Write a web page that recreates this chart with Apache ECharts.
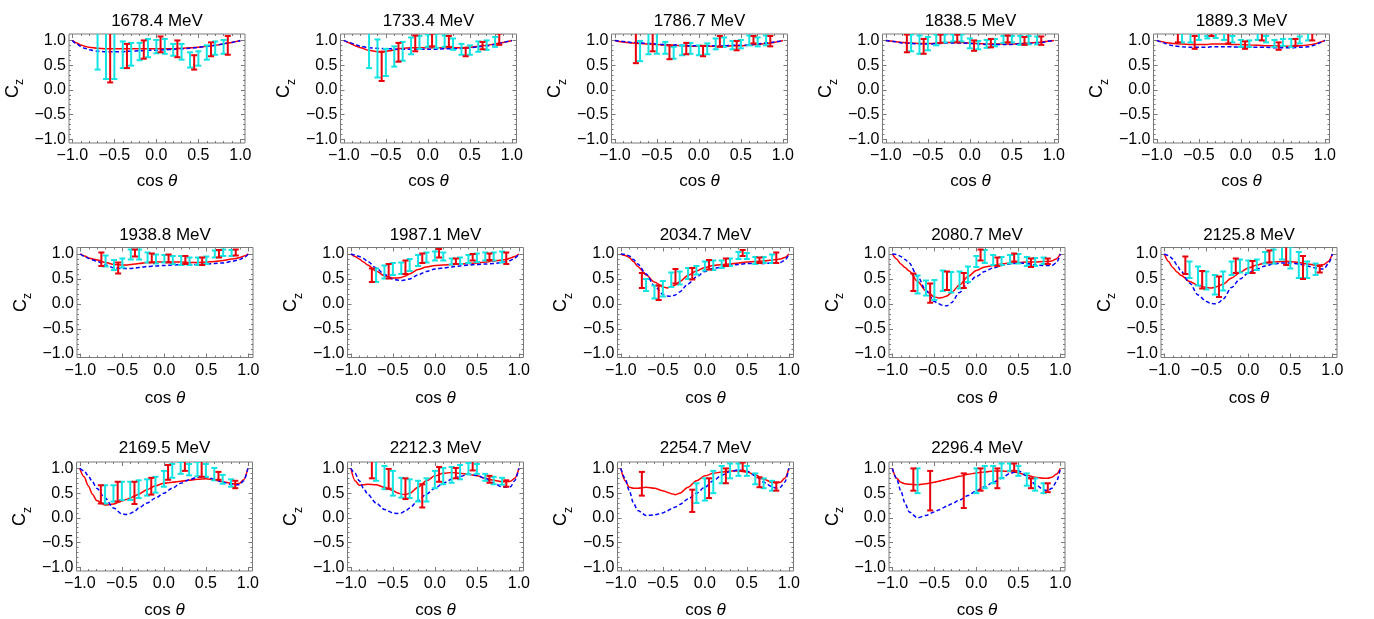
<!DOCTYPE html>
<html><head><meta charset="utf-8">
<script src="https://cdn.jsdelivr.net/npm/echarts@6/dist/echarts.min.js"></script>
<style>html,body{margin:0;padding:0;background:#fff}#c{width:1374px;height:619px}</style>
</head><body><div id="c"></div>
<script>
// ---------------- DATA ----------------
const energies = ['1678.4','1733.4','1786.7','1838.5','1889.3','1938.8','1987.1','2034.7','2080.7','2125.8','2169.5','2212.3','2254.7','2296.4'];
const curveX = [-1,-0.95,-0.9,-0.85,-0.8,-0.7,-0.6,-0.5,-0.45,-0.4,-0.35,-0.3,-0.2,-0.1,0,0.1,0.2,0.3,0.4,0.5,0.6,0.7,0.8,0.85,0.9,0.95,1];
const redCurves = [
 [1.0,0.95,0.91,0.88,0.86,0.84,0.83,0.83,0.83,0.83,0.83,0.83,0.83,0.83,0.83,0.83,0.83,0.84,0.85,0.86,0.88,0.90,0.93,0.95,0.96,0.98,1.0],
 [1.0,0.96,0.92,0.88,0.85,0.80,0.77,0.78,0.79,0.81,0.83,0.84,0.85,0.85,0.85,0.85,0.85,0.85,0.85,0.86,0.88,0.90,0.93,0.95,0.96,0.98,1.0],
 [1.0,0.98,0.97,0.96,0.95,0.94,0.93,0.92,0.91,0.91,0.90,0.90,0.89,0.88,0.88,0.88,0.88,0.88,0.89,0.89,0.90,0.92,0.94,0.95,0.96,0.98,1.0],
 [1.0,0.99,0.98,0.97,0.96,0.95,0.94,0.94,0.94,0.95,0.95,0.96,0.96,0.96,0.95,0.94,0.93,0.93,0.93,0.93,0.94,0.95,0.96,0.97,0.98,0.99,1.0],
 [1.0,0.98,0.96,0.95,0.94,0.93,0.92,0.92,0.92,0.92,0.93,0.93,0.93,0.92,0.92,0.91,0.90,0.89,0.89,0.88,0.88,0.89,0.91,0.92,0.94,0.97,1.0],
 [1.0,0.96,0.92,0.90,0.88,0.83,0.79,0.78,0.78,0.79,0.80,0.81,0.83,0.84,0.84,0.84,0.84,0.83,0.83,0.84,0.85,0.87,0.90,0.91,0.93,0.96,1.0],
 [1.0,0.95,0.90,0.84,0.78,0.66,0.56,0.52,0.52,0.53,0.56,0.60,0.69,0.74,0.77,0.78,0.79,0.80,0.81,0.82,0.84,0.86,0.88,0.89,0.92,0.95,1.0],
 [1.0,0.97,0.93,0.85,0.75,0.58,0.44,0.34,0.32,0.34,0.38,0.45,0.57,0.66,0.73,0.77,0.79,0.80,0.82,0.84,0.85,0.86,0.88,0.89,0.90,0.93,1.0],
 [1.0,0.90,0.80,0.73,0.66,0.45,0.26,0.14,0.12,0.13,0.16,0.22,0.38,0.55,0.67,0.74,0.77,0.80,0.82,0.83,0.84,0.84,0.85,0.85,0.86,0.90,1.0],
 [1.0,0.85,0.73,0.64,0.57,0.45,0.37,0.33,0.32,0.33,0.36,0.40,0.52,0.63,0.72,0.78,0.82,0.84,0.85,0.85,0.83,0.80,0.78,0.78,0.79,0.85,1.0],
 [1.0,0.83,0.65,0.48,0.35,0.26,0.28,0.34,0.37,0.40,0.44,0.48,0.57,0.65,0.70,0.72,0.74,0.76,0.78,0.79,0.77,0.73,0.70,0.68,0.70,0.77,1.0],
 [1.0,0.75,0.66,0.67,0.68,0.67,0.62,0.55,0.51,0.48,0.47,0.50,0.62,0.75,0.85,0.90,0.92,0.90,0.88,0.85,0.80,0.76,0.73,0.73,0.74,0.80,1.0],
 [1.0,0.75,0.62,0.60,0.60,0.62,0.60,0.55,0.52,0.49,0.47,0.50,0.62,0.75,0.85,0.90,0.93,0.95,0.95,0.93,0.87,0.78,0.72,0.71,0.72,0.80,1.0],
 [1.0,0.80,0.72,0.69,0.68,0.67,0.69,0.72,0.74,0.76,0.78,0.80,0.84,0.88,0.91,0.93,0.95,0.95,0.94,0.91,0.86,0.82,0.80,0.80,0.82,0.88,1.0]
];
const blueCurves = [
 [1.0,0.93,0.88,0.84,0.81,0.78,0.77,0.77,0.77,0.77,0.78,0.78,0.79,0.80,0.80,0.81,0.82,0.83,0.84,0.86,0.88,0.90,0.93,0.95,0.96,0.98,1.0],
 [1.0,0.97,0.94,0.91,0.88,0.85,0.84,0.83,0.83,0.82,0.82,0.82,0.82,0.82,0.82,0.82,0.83,0.83,0.84,0.85,0.87,0.89,0.92,0.94,0.96,0.98,1.0],
 [1.0,0.99,0.98,0.97,0.96,0.95,0.94,0.93,0.92,0.92,0.91,0.91,0.90,0.89,0.89,0.89,0.89,0.89,0.90,0.90,0.91,0.93,0.95,0.96,0.97,0.98,1.0],
 [1.0,0.99,0.98,0.96,0.95,0.94,0.93,0.93,0.93,0.94,0.94,0.95,0.95,0.95,0.94,0.93,0.92,0.92,0.92,0.92,0.93,0.94,0.95,0.96,0.97,0.99,1.0],
 [1.0,0.97,0.94,0.91,0.89,0.87,0.86,0.86,0.86,0.86,0.87,0.87,0.87,0.87,0.86,0.86,0.86,0.86,0.85,0.85,0.85,0.86,0.87,0.89,0.92,0.96,1.0],
 [1.0,0.95,0.91,0.88,0.85,0.78,0.72,0.71,0.71,0.71,0.72,0.73,0.75,0.76,0.77,0.78,0.79,0.79,0.79,0.80,0.81,0.82,0.85,0.87,0.89,0.93,1.0],
 [1.0,0.98,0.95,0.91,0.85,0.72,0.59,0.50,0.48,0.47,0.48,0.50,0.58,0.65,0.70,0.72,0.74,0.76,0.78,0.79,0.80,0.81,0.83,0.85,0.87,0.92,1.0],
 [1.0,0.99,0.96,0.89,0.80,0.60,0.36,0.19,0.16,0.15,0.18,0.24,0.40,0.54,0.65,0.71,0.74,0.77,0.79,0.81,0.81,0.81,0.82,0.83,0.83,0.87,1.0],
 [1.0,0.99,0.95,0.89,0.82,0.55,0.27,0.05,0.00,-0.03,-0.04,0.02,0.23,0.42,0.55,0.65,0.72,0.77,0.80,0.82,0.81,0.78,0.77,0.77,0.77,0.82,1.0],
 [1.0,0.97,0.90,0.78,0.65,0.42,0.18,0.05,0.01,0.00,0.03,0.10,0.33,0.50,0.62,0.70,0.76,0.80,0.82,0.82,0.80,0.76,0.72,0.70,0.70,0.80,1.0],
 [1.0,0.95,0.85,0.73,0.60,0.40,0.20,0.08,0.07,0.09,0.13,0.20,0.30,0.40,0.50,0.60,0.70,0.77,0.82,0.83,0.78,0.72,0.68,0.67,0.67,0.75,1.0],
 [1.0,0.90,0.75,0.60,0.48,0.30,0.17,0.10,0.09,0.10,0.14,0.20,0.35,0.48,0.60,0.70,0.78,0.84,0.88,0.86,0.80,0.70,0.63,0.62,0.63,0.75,1.0],
 [1.0,0.80,0.55,0.30,0.15,0.05,0.06,0.10,0.14,0.18,0.22,0.27,0.38,0.50,0.62,0.75,0.86,0.94,0.97,0.95,0.85,0.72,0.63,0.60,0.62,0.72,1.0],
 [1.0,0.80,0.55,0.30,0.12,0.00,0.05,0.12,0.16,0.20,0.24,0.28,0.36,0.45,0.55,0.63,0.72,0.80,0.90,0.95,0.85,0.68,0.57,0.55,0.60,0.72,1.0]
];
const redBarX = [-0.75,-0.55,-0.35,-0.15,0.05,0.25,0.45,0.65,0.85];
const redBars = [
 [null,[0.15,1.15],[0.44,0.93],[0.63,1.0],[0.76,1.08],[0.66,1.0],[0.41,0.70],[0.68,0.96],[0.71,1.09]],
 [null,[0.18,0.77],[0.57,0.95],[0.78,1.1],[0.88,1.14],[0.87,1.09],[0.68,0.85],[0.82,0.97],[0.91,1.14]],
 [[0.54,1.15],[0.78,1.15],[0.62,0.9],[0.72,0.95],[0.68,0.89],[0.87,1.09],[0.8,0.99],[0.94,1.09],[0.88,1.09]],
 [[0.76,1.12],[0.73,1.03],[0.95,1.12],[0.96,1.12],[0.79,1.0],[0.86,1.03],[0.96,1.1],[0.91,1.07],[0.91,1.08]],
 [[0.96,1.15],[0.83,1.09],[1.09,1.2],[0.94,1.15],[0.83,0.98],[1.0,1.15],[0.81,0.96],[0.89,1.03],[1.0,1.15]],
 [[0.76,1.03],[0.61,0.83],[0.95,1.09],[0.83,1.01],[0.83,0.99],[0.8,0.96],[0.78,0.93],[0.93,1.08],[0.97,1.09]],
 [[0.44,0.71],[0.51,0.8],[0.6,0.87],[0.82,1.01],[0.93,1.1],[0.8,0.91],[0.87,1.0],[0.88,1.01],[0.8,1.03]],
 [[0.32,0.62],[0.08,0.37],[0.41,0.7],[0.49,0.72],[0.69,0.88],[0.76,0.91],[0.96,1.08],[0.82,0.93],[0.82,1.03]],
 [[0.26,0.61],[0.02,0.41],[0.28,0.65],[0.32,0.62],[0.87,1.09],[0.76,0.93],[0.85,1.01],[0.74,0.91],[0.8,0.91]],
 [[0.6,0.95],[0.31,0.66],[0.14,0.55],[0.62,0.91],[0.62,0.86],[0.83,1.07],[0.78,1.2],[0.5,0.96],[0.63,0.76]],
 [[0.29,0.66],[0.33,0.73],[0.28,0.73],[0.47,0.81],[0.77,1.07],[0.95,1.15],[0.83,1.15],[0.77,0.93],[0.6,0.75]],
 [[0.8,1.15],[0.59,0.99],[0.38,0.8],[0.21,0.68],[0.73,1.03],[0.8,1.01],[0.96,1.15],[0.71,0.85],[0.63,0.76]],
 [[0.45,0.93],null,null,[0.12,0.57],[0.4,0.8],[0.7,1.0],[0.95,1.12],[0.62,0.82],[0.55,0.72]],
 [[0.55,1.0],[0.15,0.95],null,[0.2,0.9],[0.55,1.0],[0.6,1.0],[0.95,1.1],[0.6,0.8],[0.52,0.7]]
];
const cyanBarX = [-0.7,-0.6,-0.5,-0.4,-0.3,-0.2,-0.1,0,0.1,0.2,0.3,0.4,0.5,0.6,0.7,0.8];
const cyanBars = [
 [[0.41,1.15],[0.22,1.15],[0.22,1.15],[0.44,0.98],[0.49,0.95],[0.6,0.95],[0.66,1.03],[0.74,1.01],[0.73,1.03],[0.69,0.93],[0.61,0.93],[0.45,0.76],[0.49,0.78],[0.61,0.9],[0.71,0.98],[0.73,1.01]],
 [[0.44,1.15],[0.25,1.02],[0.28,0.83],[0.47,0.88],[0.59,0.97],[0.72,1.06],[0.83,1.09],[0.87,1.12],[0.85,1.14],[0.87,1.1],[0.81,1.04],[0.71,0.93],[0.71,0.9],[0.77,0.98],[0.81,1.0],[0.87,1.07]],
 [[0.58,0.99],[0.72,1.15],[0.73,1.15],[0.73,0.97],[0.63,0.87],[0.7,0.9],[0.73,0.95],[0.7,0.9],[0.72,0.94],[0.82,1.04],[0.87,1.06],[0.82,0.99],[0.84,1.01],[0.9,1.1],[0.88,1.06],[0.9,1.1]],
 [[0.78,1.12],[0.73,1.1],[0.8,1.07],[0.9,1.12],[0.96,1.12],[0.98,1.12],[0.98,1.12],[0.84,1.04],[0.82,0.99],[0.85,1.01],[0.88,1.03],[0.95,1.09],[0.96,1.09],[0.91,1.09],[0.92,1.09],[0.92,1.08]],
 [[0.96,1.15],[0.96,1.15],[1.01,1.15],[1.04,1.09],[1.05,1.15],[1.01,1.15],[0.96,1.09],[0.87,1.01],[0.87,1.0],[1.01,1.15],[0.96,1.09],[0.87,1.01],[0.89,1.03],[0.87,1.03],[0.94,1.08],[1.0,1.15]],
 [[0.75,0.97],[0.68,0.88],[0.73,0.91],[0.89,1.09],[0.89,1.09],[0.83,1.03],[0.81,0.99],[0.83,0.98],[0.8,0.96],[0.78,0.96],[0.78,0.93],[0.78,0.93],[0.8,0.95],[0.93,1.07],[0.96,1.09],[0.96,1.08]],
 [[0.44,0.71],[0.51,0.77],[0.58,0.82],[0.6,0.83],[0.66,0.9],[0.76,0.98],[0.83,1.03],[0.87,1.05],[0.87,1.03],[0.79,0.91],[0.8,0.93],[0.82,0.98],[0.84,1.01],[0.87,1.03],[0.87,1.03],[0.83,1.05]],
 [[0.26,0.5],[0.11,0.37],[0.15,0.46],[0.34,0.63],[0.39,0.65],[0.5,0.72],[0.59,0.76],[0.67,0.85],[0.68,0.87],[0.72,0.87],[0.76,0.91],[0.9,1.04],[0.9,1.02],[0.8,0.94],[0.82,0.94],[0.82,0.99]],
 [[0.21,0.57],[0.17,0.47],[0.08,0.48],[0.26,0.67],[0.23,0.64],[0.31,0.65],[0.44,0.75],[0.74,0.96],[0.82,1.08],[0.78,0.98],[0.78,0.94],[0.81,0.98],[0.81,1.0],[0.76,0.94],[0.76,0.92],[0.8,0.93]],
 [[0.52,0.85],[0.37,0.75],[0.29,0.65],[0.19,0.58],[0.27,0.65],[0.58,0.85],[0.63,0.89],[0.62,0.87],[0.68,0.89],[0.81,1.04],[0.81,1.09],[0.89,1.2],[0.71,1.14],[0.52,1.04],[0.52,0.85],[0.58,0.81]],
 [[0.29,0.66],[0.33,0.66],[0.36,0.73],[0.36,0.73],[0.4,0.76],[0.45,0.78],[0.51,0.83],[0.63,0.95],[0.81,1.09],[0.89,1.13],[0.86,1.09],[0.84,1.13],[0.83,1.09],[0.76,1.01],[0.69,0.87],[0.63,0.78]],
 [[0.75,1.15],[0.58,1.05],[0.45,0.95],[0.41,0.81],[0.4,0.78],[0.33,0.75],[0.33,0.8],[0.6,0.95],[0.68,1.01],[0.71,1.03],[0.78,1.07],[0.88,1.11],[0.89,1.09],[0.75,0.89],[0.68,0.83],[0.67,0.81]],
 [null,null,null,null,null,null,[0.3,0.7],[0.35,0.8],[0.5,0.95],[0.7,1.05],[0.8,1.1],[0.85,1.1],[0.85,1.05],[0.68,0.9],[0.6,0.8],[0.55,0.75]],
 [[0.5,1.0],null,null,null,null,null,null,[0.5,1.0],[0.6,1.05],[0.7,1.05],[0.8,1.1],[0.95,1.1],[0.85,1.05],[0.65,0.9],[0.55,0.8],[0.5,0.7]]
];
const majorTicks = [-1,-0.5,0,0.5,1];
const minorTicks = [-1,-0.9,-0.8,-0.7,-0.6,-0.5,-0.4,-0.3,-0.2,-0.1,0,0.1,0.2,0.3,0.4,0.5,0.6,0.7,0.8,0.9,1];

// ---------------- LAYOUT ----------------
const X_MIN = -1.04, X_MAX = 1.055, Y_MIN = -1.075, Y_MAX = 1.13;
const rows = [
 {top: 34, h: 109, lefts: [69, 340.5, 611.5, 882.5, 1153.5], titleY: 21.7, nameY: 181.7},
 {top: 247.5, h: 110, lefts: [77, 347.5, 617.5, 889, 1161], titleY: 235, nameY: 398.3},
 {top: 462, h: 109, lefts: [76.5, 347.5, 617.5, 889], titleY: 448, nameY: 610}
];
const PW = 176;
const FONT = '"Liberation Sans", Arial, sans-serif';
const FRAME = '#7a7a7a';

const fmt = v => (v < 0 ? '\u2212' : '') + Math.abs(v).toFixed(1);

function barRenderer(color) {
  return function (params, api) {
    const x = api.value(0), lo = api.value(1), hi = api.value(2);
    const a = api.coord([x, lo]), b = api.coord([x, hi]);
    const cw = 3;
    const st = {stroke: color, lineWidth: 2};
    return {type: 'group', children: [
      {type: 'line', shape: {x1: a[0], y1: a[1], x2: b[0], y2: b[1]}, style: st},
      {type: 'line', shape: {x1: a[0] - cw, y1: a[1], x2: a[0] + cw, y2: a[1]}, style: st},
      {type: 'line', shape: {x1: b[0] - cw, y1: b[1], x2: b[0] + cw, y2: b[1]}, style: st}
    ]};
  };
}

const grid = [], xAxis = [], yAxis = [], series = [], graphic = [];
energies.forEach((e, i) => {
  const r = rows[Math.floor(i / 5)], c = i % 5;
  const left = r.lefts[c];
  grid.push({left: left, top: r.top, width: PW, height: r.h, show: true, borderColor: FRAME, borderWidth: 1, backgroundColor: 'transparent'});
  const mkX = (pos, ticks, len, label) => ({
    type: 'value', gridIndex: i, position: pos, min: X_MIN, max: X_MAX,
    axisLine: {show: false, onZero: false}, splitLine: {show: false},
    axisTick: {show: true, inside: true, length: len, customValues: ticks, lineStyle: {color: FRAME, width: 1}},
    axisLabel: label ? {show: true, customValues: majorTicks, formatter: fmt, margin: 5, fontSize: 16, color: '#000', fontFamily: FONT} : {show: false}
  });
  const mkY = (pos, ticks, len, label) => ({
    type: 'value', gridIndex: i, position: pos, min: Y_MIN, max: Y_MAX,
    axisLine: {show: false, onZero: false}, splitLine: {show: false},
    axisTick: {show: true, inside: true, length: len, customValues: ticks, lineStyle: {color: FRAME, width: 1}},
    axisLabel: label ? {show: true, customValues: majorTicks, formatter: fmt, margin: 3, fontSize: 16, color: '#000', fontFamily: FONT} : {show: false}
  });
  xAxis.push(mkX('bottom', majorTicks, 4, true), mkX('bottom', minorTicks, 2, false), mkX('top', majorTicks, 4, false), mkX('top', minorTicks, 2, false));
  yAxis.push(mkY('left', majorTicks, 4, true), mkY('left', minorTicks, 2, false), mkY('right', majorTicks, 4, false), mkY('right', minorTicks, 2, false));
  const ax = {xAxisIndex: 4 * i, yAxisIndex: 4 * i};
  series.push(Object.assign({
    type: 'line', data: curveX.map((x, j) => [x, redCurves[i][j]]), showSymbol: false, smooth: 0.3, smoothMonotone: 'x',
    lineStyle: {color: '#ff0000', width: 1.5}, clip: true, silent: true, z: 2
  }, ax));
  series.push(Object.assign({
    type: 'line', data: curveX.map((x, j) => [x, blueCurves[i][j]]), showSymbol: false, smooth: 0.3, smoothMonotone: 'x',
    lineStyle: {color: '#0000ff', width: 1.5, type: [4, 2.5]}, clip: true, silent: true, z: 3
  }, ax));
  series.push(Object.assign({
    type: 'custom', renderItem: barRenderer('#12e3e3'), clip: true, silent: true, z: 4,
    data: cyanBarX.map((x, j) => cyanBars[i][j] ? [x, cyanBars[i][j][0], cyanBars[i][j][1]] : null).filter(d => d)
  }, ax));
  series.push(Object.assign({
    type: 'custom', renderItem: barRenderer('#e8000b'), clip: true, silent: true, z: 5,
    data: redBarX.map((x, j) => redBars[i][j] ? [x, redBars[i][j][0], redBars[i][j][1]] : null).filter(d => d)
  }, ax));
  const cx = left + PW / 2;
  graphic.push({type: 'text', x: cx, y: r.titleY, silent: true,
    style: {text: e + ' MeV', font: '17px ' + FONT, fill: '#000', align: 'center', verticalAlign: 'middle'}});
  graphic.push({type: 'text', x: cx, y: r.nameY, silent: true,
    style: {text: '{a|cos }{b|\u03b8}', align: 'center', verticalAlign: 'middle',
      rich: {a: {fontSize: 17, fontFamily: FONT, color: '#000'}, b: {fontSize: 17, fontFamily: FONT, fontStyle: 'italic', color: '#000'}}}});
  graphic.push({type: 'text', x: left - 54, y: r.top + r.h / 2, rotation: Math.PI / 2, silent: true,
    style: {text: '{c|C}{z|z}', align: 'center', verticalAlign: 'middle',
      rich: {c: {fontSize: 18, fontFamily: FONT, color: '#000', verticalAlign: 'bottom', padding: [0, 0, 4, 0], lineHeight: 22},
             z: {fontSize: 12, fontFamily: FONT, color: '#000', verticalAlign: 'bottom', lineHeight: 22}}}});
});

const chart = echarts.init(document.getElementById('c'), null, {renderer: 'canvas', width: 1374, height: 619});
chart.setOption({animation: false, backgroundColor: '#fff', grid, xAxis, yAxis, series, graphic});
</script></body></html>
